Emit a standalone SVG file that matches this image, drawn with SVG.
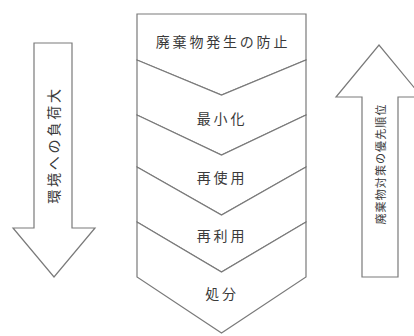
<svg xmlns="http://www.w3.org/2000/svg" width="414" height="336" viewBox="0 0 414 336">
<style>
.shape{fill:#ffffff;stroke:#7a7a7a;stroke-width:1.2;stroke-linejoin:miter}
.lbl{font-family:"Noto Sans CJK JP","Noto Sans CJK SC",sans-serif;font-size:14px;fill:#3a3a3a;text-anchor:middle;dominant-baseline:central;letter-spacing:2.8px}
.small{font-size:11px;letter-spacing:1.1px}
</style>
<rect width="414" height="336" fill="#ffffff"/>
<g id="arrow-left">
<polygon class="shape" points="34,43 72,43 72,228 95,228 54,277 13,228 34,228"/>
<text class="lbl" transform="translate(53,145) rotate(-90)">環境への負荷大</text>
</g>
<g id="arrow-right">
<polygon class="shape" points="362,277 398,277 398,97 422,97 379,45 336,97 362,97"/>
<text class="lbl small" transform="translate(380,164) rotate(-90)">廃棄物対策の優先順位</text>
</g>
<g id="step1">
<polygon class="shape" points="137,14 306,14 306,60 221.5,95 137,60"/>
<text class="lbl" x="223" y="41">廃棄物発生の防止</text>
</g>
<g id="step2">
<polygon class="shape" points="137,60 221.5,95 306,60 306,115 221.5,155 137,115"/>
<text class="lbl" x="222" y="118">最小化</text>
</g>
<g id="step3">
<polygon class="shape" points="137,115 221.5,155 306,115 306,167 221.5,215 137,167"/>
<text class="lbl" x="222" y="177">再使用</text>
</g>
<g id="step4">
<polygon class="shape" points="137,167 221.5,215 306,167 306,222 221.5,272 137,222"/>
<text class="lbl" x="222" y="235">再利用</text>
</g>
<g id="step5">
<polygon class="shape" points="137,222 221.5,272 306,222 306,277 221.5,333 137,277"/>
<text class="lbl" x="222" y="293">処分</text>
</g>
<g id="connectors"></g>
</svg>
